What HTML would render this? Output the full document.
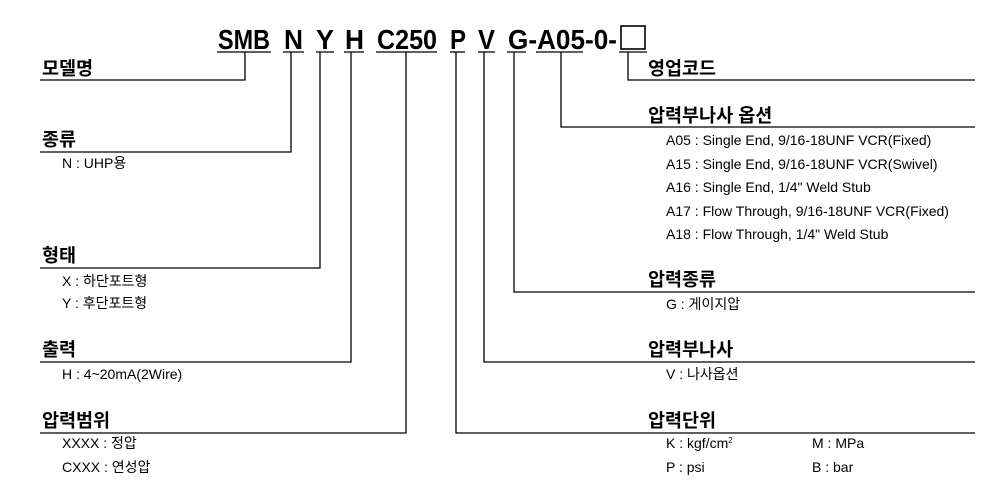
<!DOCTYPE html>
<html><head><meta charset="utf-8"><style>
html,body{margin:0;padding:0;background:#fff;}
svg{display:block;}
text{font-family:"Liberation Sans","Noto Sans CJK KR",sans-serif;fill:#000;}
.h{font-size:18.5px;font-weight:bold;}
.t{font-size:14px;}
.c{font-size:28px;font-weight:bold;}
</style></head><body>
<svg width="998" height="488" viewBox="0 0 998 488">
<text x="218" y="49" class="c" textLength="52" lengthAdjust="spacingAndGlyphs">SMB</text>
<text x="284" y="49" class="c" textLength="19" lengthAdjust="spacingAndGlyphs">N</text>
<text x="316" y="49" class="c" textLength="18" lengthAdjust="spacingAndGlyphs">Y</text>
<text x="345" y="49" class="c" textLength="19" lengthAdjust="spacingAndGlyphs">H</text>
<text x="377" y="49" class="c" textLength="60" lengthAdjust="spacingAndGlyphs">C250</text>
<text x="450" y="49" class="c" textLength="16" lengthAdjust="spacingAndGlyphs">P</text>
<text x="478" y="49" class="c" textLength="17" lengthAdjust="spacingAndGlyphs">V</text>
<text x="508" y="49" class="c" textLength="109" lengthAdjust="spacingAndGlyphs">G-A05-0-</text>
<g stroke="#000" stroke-width="1.3" fill="none">
<rect x="621" y="26" width="24" height="23" stroke-width="1.6"/>
<line x1="217" y1="52" x2="271" y2="52"/>
<line x1="283" y1="52" x2="304" y2="52"/>
<line x1="316" y1="52" x2="334" y2="52"/>
<line x1="344" y1="52" x2="364" y2="52"/>
<line x1="376" y1="52" x2="437" y2="52"/>
<line x1="450" y1="52" x2="465" y2="52"/>
<line x1="478" y1="52" x2="495" y2="52"/>
<line x1="507" y1="52" x2="526" y2="52"/>
<line x1="536" y1="52" x2="583" y2="52"/>
<line x1="619" y1="52" x2="647" y2="52"/>
<polyline points="245,52 245,80 40,80"/>
<polyline points="291,52 291,152 40,152"/>
<polyline points="320,52 320,268 40,268"/>
<polyline points="351,52 351,362 40,362"/>
<polyline points="406,52 406,433 40,433"/>
<polyline points="456,52 456,433 975,433"/>
<polyline points="484,52 484,362 975,362"/>
<polyline points="514,52 514,292 975,292"/>
<polyline points="561,52 561,127 975,127"/>
<polyline points="628,52 628,80 975,80"/>
</g>
<text x="42" y="75" class="h">모델명</text>
<text x="42" y="146" class="h">종류</text>
<text x="62" y="168" class="t">N : UHP용</text>
<text x="42" y="262" class="h">형태</text>
<text x="62" y="286" class="t">X : 하단포트형</text>
<text x="62" y="308" class="t">Y : 후단포트형</text>
<text x="42" y="356" class="h">출력</text>
<text x="62" y="379" class="t">H : 4~20mA(2Wire)</text>
<text x="42" y="427" class="h">압력범위</text>
<text x="62" y="448" class="t">XXXX : 정압</text>
<text x="62" y="472" class="t">CXXX : 연성압</text>

<text x="648" y="75" class="h">영업코드</text>
<text x="648" y="122" class="h">압력부나사 옵션</text>
<text x="666" y="145" class="t">A05 : Single End, 9/16-18UNF VCR(Fixed)</text>
<text x="666" y="169" class="t">A15 : Single End, 9/16-18UNF VCR(Swivel)</text>
<text x="666" y="192" class="t">A16 : Single End, 1/4" Weld Stub</text>
<text x="666" y="216" class="t">A17 : Flow Through, 9/16-18UNF VCR(Fixed)</text>
<text x="666" y="239" class="t">A18 : Flow Through, 1/4" Weld Stub</text>
<text x="648" y="286" class="h">압력종류</text>
<text x="666" y="309" class="t">G : 게이지압</text>
<text x="648" y="356" class="h">압력부나사</text>
<text x="666" y="379" class="t">V : 나사옵션</text>
<text x="648" y="427" class="h">압력단위</text>
<text x="666" y="448" class="t">K : kgf/cm<tspan font-size="8" dy="-5">2</tspan></text>
<text x="812" y="448" class="t">M : MPa</text>
<text x="666" y="472" class="t">P : psi</text>
<text x="812" y="472" class="t">B : bar</text>
</svg>
</body></html>
